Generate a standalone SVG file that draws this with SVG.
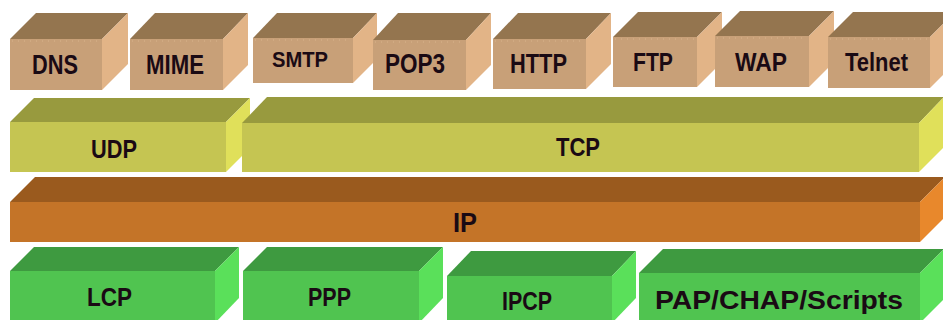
<svg xmlns="http://www.w3.org/2000/svg" width="943" height="320" viewBox="0 0 943 320">
  <style>
    .lbl { font-family: "Liberation Sans", Arial, sans-serif; font-weight: bold; fill: #1a0a14; }
    .app .top { fill: #94754f; }
    .app .front { fill: #c8a078; }
    .app .side { fill: #e2b487; }
    .app .dots { stroke: #d9b48c; stroke-width: 1; stroke-dasharray: 1 5; fill: none; }
    .trn .top { fill: #989a3e; }
    .trn .front { fill: #c5c552; }
    .trn .side { fill: #e0e05a; }
    .net .top { fill: #9a5a1e; }
    .net .front { fill: #c47428; }
    .net .side { fill: #e8882c; }
    .lnk .top { fill: #3e9a40; }
    .lnk .front { fill: #50c450; }
    .lnk .side { fill: #5ae05a; }
  </style>
  <rect width="943" height="320" fill="#ffffff"/>

  <!-- Application layer -->
  <g id="dns" class="app">
    <polygon class="top" points="10,39 36,13 128,13 102,39"/>
    <rect class="front" x="10" y="39" width="92" height="51"/>
    <polygon class="side" points="102,39 128,13 128,64 102,90"/>
    <line class="dots" x1="12" y1="41" x2="100" y2="41"/>
    <text class="lbl" x="32" y="74" font-size="27" textLength="46" lengthAdjust="spacingAndGlyphs">DNS</text>
  </g>
  <g id="mime" class="app">
    <polygon class="top" points="130,39 155,13 248,13 223,39"/>
    <rect class="front" x="130" y="39" width="93" height="51"/>
    <polygon class="side" points="223,39 248,13 248,65 223,90"/>
    <line class="dots" x1="132" y1="41" x2="221" y2="41"/>
    <text class="lbl" x="146" y="74" font-size="27" textLength="58" lengthAdjust="spacingAndGlyphs">MIME</text>
  </g>
  <g id="smtp" class="app">
    <polygon class="top" points="253,38 277,13 377,13 353,38"/>
    <rect class="front" x="253" y="38" width="100" height="45"/>
    <polygon class="side" points="353,38 377,13 377,59 353,83"/>
    <line class="dots" x1="255" y1="40" x2="351" y2="40"/>
    <text class="lbl" x="272" y="67" font-size="22" textLength="56" lengthAdjust="spacingAndGlyphs">SMTP</text>
  </g>
  <g id="pop3" class="app">
    <polygon class="top" points="373,40 398,13 491,13 466,40"/>
    <rect class="front" x="373" y="40" width="93" height="50"/>
    <polygon class="side" points="466,40 491,13 491,65 466,90"/>
    <line class="dots" x1="375" y1="42" x2="464" y2="42"/>
    <text class="lbl" x="385" y="73" font-size="27" textLength="60" lengthAdjust="spacingAndGlyphs">POP3</text>
  </g>
  <g id="http" class="app">
    <polygon class="top" points="493,39 518,13 611,13 586,39"/>
    <rect class="front" x="493" y="39" width="93" height="50"/>
    <polygon class="side" points="586,39 611,13 611,64 586,89"/>
    <line class="dots" x1="495" y1="41" x2="584" y2="41"/>
    <text class="lbl" x="510" y="73" font-size="27" textLength="57" lengthAdjust="spacingAndGlyphs">HTTP</text>
  </g>
  <g id="ftp" class="app">
    <polygon class="top" points="613,37 638,12 722,12 697,37"/>
    <rect class="front" x="613" y="37" width="84" height="50"/>
    <polygon class="side" points="697,37 722,12 722,62 697,87"/>
    <line class="dots" x1="615" y1="39" x2="695" y2="39"/>
    <text class="lbl" x="633" y="71" font-size="26" textLength="40" lengthAdjust="spacingAndGlyphs">FTP</text>
  </g>
  <g id="wap" class="app">
    <polygon class="top" points="715,36 740,11 834,11 809,36"/>
    <rect class="front" x="715" y="36" width="94" height="51"/>
    <polygon class="side" points="809,36 834,11 834,62 809,87"/>
    <line class="dots" x1="717" y1="38" x2="807" y2="38"/>
    <text class="lbl" x="735" y="71" font-size="26" textLength="52" lengthAdjust="spacingAndGlyphs">WAP</text>
  </g>
  <g id="telnet" class="app">
    <polygon class="top" points="828,37 853,12 955,12 930,37"/>
    <rect class="front" x="828" y="37" width="102" height="51"/>
    <polygon class="side" points="930,37 955,12 955,63 930,88"/>
    <line class="dots" x1="830" y1="39" x2="928" y2="39"/>
    <text class="lbl" x="845" y="71" font-size="26" textLength="63" lengthAdjust="spacingAndGlyphs">Telnet</text>
  </g>

  <!-- Transport layer -->
  <g id="udp" class="trn">
    <polygon class="top" points="10,122 34,98 250,98 226,122"/>
    <rect class="front" x="10" y="122" width="216" height="50"/>
    <polygon class="side" points="226,122 250,98 250,148 226,172"/>
    <text class="lbl" x="91" y="158" font-size="25" textLength="46" lengthAdjust="spacingAndGlyphs">UDP</text>
  </g>
  <g id="tcp" class="trn">
    <polygon class="top" points="242,123 267,97 944,97 919,123"/>
    <rect class="front" x="242" y="123" width="677" height="49"/>
    <polygon class="side" points="919,123 944,97 944,147 919,172"/>
    <text class="lbl" x="556" y="156" font-size="25" textLength="44" lengthAdjust="spacingAndGlyphs">TCP</text>
  </g>

  <!-- Network layer -->
  <g id="ip" class="net">
    <polygon class="top" points="10,202 35,177 945,177 920,202"/>
    <rect class="front" x="10" y="202" width="910" height="40"/>
    <polygon class="side" points="920,202 945,177 945,217 920,242"/>
    <text class="lbl" x="453" y="232" font-size="27" textLength="24" lengthAdjust="spacingAndGlyphs">IP</text>
  </g>

  <!-- Link layer -->
  <g id="lcp" class="lnk">
    <polygon class="top" points="10,271 34,247 239,247 215,271"/>
    <rect class="front" x="10" y="271" width="205" height="52"/>
    <polygon class="side" points="215,271 239,247 239,298 215,323"/>
    <text class="lbl" x="87" y="306" font-size="26" textLength="45" lengthAdjust="spacingAndGlyphs">LCP</text>
  </g>
  <g id="ppp" class="lnk">
    <polygon class="top" points="243,271 267,247 443,247 419,271"/>
    <rect class="front" x="243" y="271" width="176" height="52"/>
    <polygon class="side" points="419,271 443,247 443,298 419,323"/>
    <text class="lbl" x="308" y="306" font-size="26" textLength="43" lengthAdjust="spacingAndGlyphs">PPP</text>
  </g>
  <g id="ipcp" class="lnk">
    <polygon class="top" points="447,276 471,251 636,251 612,276"/>
    <rect class="front" x="447" y="276" width="165" height="47"/>
    <polygon class="side" points="612,276 636,251 636,298 612,323"/>
    <text class="lbl" x="502" y="310" font-size="26" textLength="50" lengthAdjust="spacingAndGlyphs">IPCP</text>
  </g>
  <g id="pap-chap-scripts" class="lnk">
    <polygon class="top" points="639,273 663,249 944,249 920,273"/>
    <rect class="front" x="639" y="273" width="281" height="50"/>
    <polygon class="side" points="920,273 944,249 944,299 920,323"/>
    <text class="lbl" x="655" y="309" font-size="26" textLength="248" lengthAdjust="spacingAndGlyphs">PAP/CHAP/Scripts</text>
  </g>

  <g id="connectors"/>
</svg>
